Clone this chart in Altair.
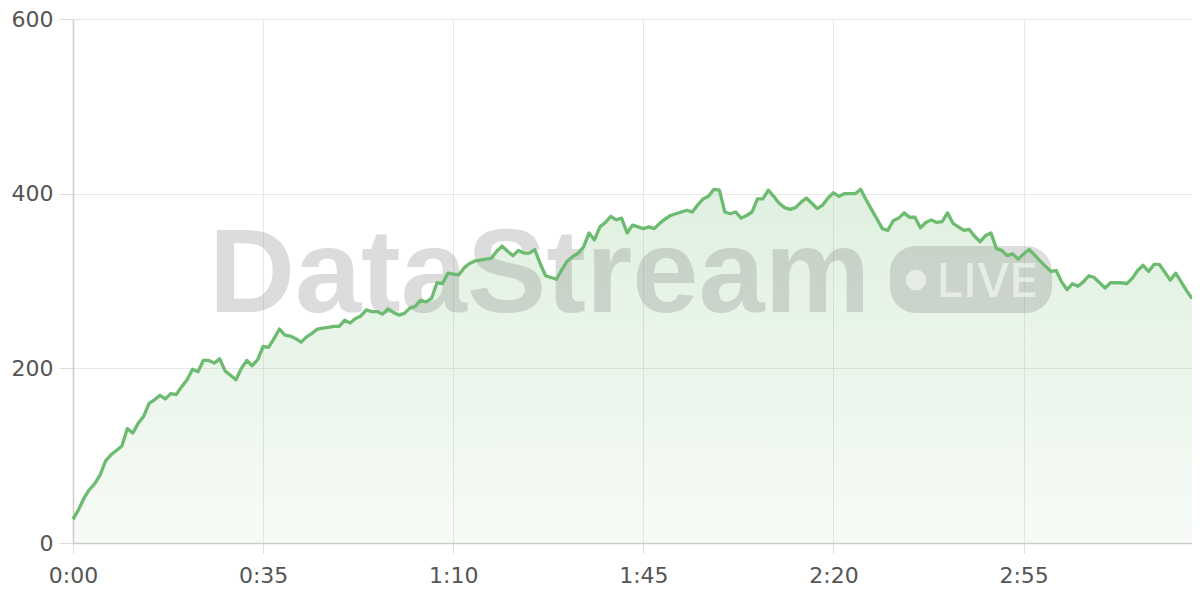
import altair as alt
import pandas as pd

# seconds since start (one sample per second)
seconds = list(range(207))
values = [
    27, 38, 51, 61, 68, 78, 94, 101, 106, 111,
    131, 126, 137, 145, 160, 164, 169, 165, 171, 170,
    179, 187, 199, 196, 209, 209, 206, 211, 197, 192,
    187, 200, 209, 203, 210, 225, 224, 234, 245, 238,
    237, 234, 230, 236, 240, 245, 246, 247, 248, 248,
    255, 252, 257, 260, 267, 265, 265, 262, 268, 264,
    261, 263, 269, 271, 278, 276, 280, 298, 297, 309,
    308, 307, 315, 320, 323, 324, 325, 326, 334, 340,
    334, 329, 335, 332, 332, 336, 320, 306, 304, 302,
    313, 323, 328, 332, 339, 355, 347, 362, 367, 374,
    370, 372, 355, 364, 362, 360, 362, 360, 366, 371,
    375, 377, 379, 381, 379, 387, 394, 397, 405, 404,
    379, 377, 379, 372, 375, 379, 394, 394, 404, 397,
    389, 384, 382, 384, 390, 395, 389, 383, 387, 395,
    401, 397, 400, 400, 400, 405, 393, 382, 371, 360,
    358, 369, 372, 378, 373, 373, 361, 367, 370, 367,
    368, 378, 366, 362, 358, 359, 351, 345, 352, 355,
    337, 335, 329, 331, 325, 331, 336, 330, 323, 317,
    311, 312, 299, 290, 297, 294, 299, 306, 304, 298,
    292, 298, 298, 298, 297, 303, 312, 318, 311, 319,
    319, 310, 301, 309, 299, 289, 280,
]
x_ticks = [0, 35, 70, 105, 140, 175]
y_ticks = [0, 200, 400, 600]
watermark_title = "DataStream"
watermark_badge = "LIVE"

df = pd.DataFrame({"t": seconds, "v": values})
one = pd.DataFrame({"k": [0]})

AXIS_FONT = "DejaVu Sans"
WM_FONT = "Liberation Sans"
GREEN = "#6dbb70"

x_enc = alt.X(
    "t:Q",
    scale=alt.Scale(domain=[0, 206], nice=False, zero=False),
    axis=alt.Axis(
        values=x_ticks,
        labelExpr="floor(datum.value/60) + ':' + (datum.value % 60 < 10 ? '0' : '') + (datum.value % 60)",
        labelFlush=False,
        title=None,
    ),
)
y_enc = alt.Y(
    "v:Q",
    scale=alt.Scale(domain=[0, 600], nice=False),
    axis=alt.Axis(values=y_ticks, title=None),
)

base = alt.Chart(df).encode(x=x_enc, y=y_enc)

area = base.mark_area(
    color=alt.Gradient(
        gradient="linear",
        stops=[
            alt.GradientStop(color="rgba(109,187,112,0.22)", offset=0),
            alt.GradientStop(color="rgba(109,187,112,0.06)", offset=1),
        ],
        x1=1, x2=1, y1=0, y2=1,
    )
)
line = base.mark_line(color=GREEN, strokeWidth=3.3, strokeJoin="round")

wm_text = alt.Chart(one).mark_text(
    text=watermark_title, font=WM_FONT, fontSize=119, fontWeight="bold",
    align="left", baseline="alphabetic", fill="#808080", opacity=0.27,
).encode(x=alt.value(136), y=alt.value(293))

badge = alt.Chart(one).mark_rect(
    cornerRadius=26, fill="#808080", opacity=0.27,
).encode(x=alt.value(817), x2=alt.value(979), y=alt.value(227), y2=alt.value(294))

dot = alt.Chart(one).mark_circle(
    size=420, fill="white", opacity=0.55,
).encode(x=alt.value(843), y=alt.value(261))

badge_text = alt.Chart(one).mark_text(
    text=watermark_badge, font="Inter", fontSize=47, fontWeight=500,
    align="left", baseline="alphabetic", fill="white", opacity=0.55,
).encode(x=alt.value(864), y=alt.value(278))

chart = (
    alt.layer(area, wm_text, badge, dot, badge_text, line)
    .properties(
        width=1119,
        height=524,
        autosize=alt.AutoSizeParams(type="none"),
        padding={"left": 65, "top": 11, "right": 0, "bottom": 50},
    )
    .configure_view(stroke=None)
    .configure_axis(
        labelFont=AXIS_FONT,
        labelFontSize=22,
        labelColor="#555555",
        gridColor="#e8e8e8",
        gridWidth=1,
        tickColor="#dddddd",
        domainColor="#cccccc",
        domainWidth=1.5,
    )
    .configure_axisY(tickSize=14, labelPadding=6)
    .configure_axisX(tickSize=10, labelPadding=12)
)

chart.save("out.html", embed_options={"renderer": "svg", "actions": False})
